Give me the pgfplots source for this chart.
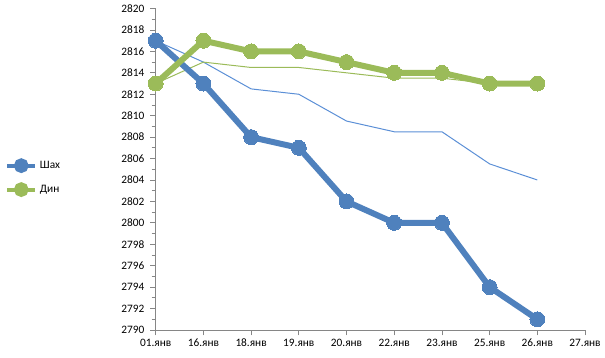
\documentclass[border=0pt]{standalone}
\usepackage{pgfplots}
\pgfplotsset{compat=1.18}
\usepackage{fontspec}
\setmainfont{Carlito}
\definecolor{xblue}{HTML}{4F81BD}
\definecolor{xgreen}{HTML}{9BBB59}
\definecolor{tblue}{HTML}{5B8FD6}
\definecolor{axgray}{HTML}{868686}
\begin{document}
\begin{tikzpicture}[x=0.75pt,y=0.75pt]
\useasboundingbox (0,0) rectangle (605,357);
\begin{axis}[
  at={(155.7pt*0.75,27pt*0.75)}, anchor=south west,
  scale only axis, width=322pt, height=241.1pt,
  xmin=0, xmax=9, ymin=2790, ymax=2820,
  axis x line*=bottom, axis y line*=left,
  axis line style={axgray, line width=0.6pt},
  xtick={0,...,9},
  xticklabels={01.янв,16.янв,18.янв,19.янв,20.янв,22.янв,23.янв,25.янв,26.янв,27.янв},
  ytick={2790,2792,...,2820},
  minor ytick={2791,2793,...,2819},
  tick align=outside,
  major tick length=4pt, minor tick length=3pt,
  tick style={axgray, line width=0.6pt},
  every tick label/.append style={font=\fontsize{8.5}{10}\selectfont, text=black},
  /pgf/number format/assume math mode=true,
  /pgf/number format/1000 sep={},
  yticklabel style={xshift=-1pt},
  xticklabel style={yshift=1pt},
  clip=false,
  legend style={at={(rel axis cs:-0.351,0.474)}, anchor=west, draw=none, fill=none,
    font=\fontsize{8.5}{10}\selectfont, row sep=7pt, inner sep=0pt},
  legend cell align=left,
]
\addplot[tblue, line width=0.75pt, forget plot] coordinates {
(0,2817) (1,2815) (2,2812.5) (3,2812) (4,2809.5) (5,2808.5) (6,2808.5) (7,2805.5) (8,2804)};
\addplot[xgreen, line width=0.75pt, forget plot] coordinates {
(0,2813) (1,2815) (2,2814.5) (3,2814.5) (4,2814) (5,2813.5) (6,2813.5) (7,2813) (8,2813)};
\addplot[xblue, line width=4.5pt, mark=*, mark size=5.6pt, mark options={line width=0pt},
  legend image code/.code={\draw[xblue, line width=3pt] (0pt,0pt) -- (21pt,0pt); \fill[xblue] (10.5pt,0pt) circle (3.2pt);}]
coordinates {
(0,2817) (1,2813) (2,2808) (3,2807) (4,2802) (5,2800) (6,2800) (7,2794) (8,2791)};
\addlegendentry{Шах}
\addplot[xgreen, line width=4.5pt, mark=*, mark size=5.6pt, mark options={line width=0pt},
  legend image code/.code={\draw[xgreen, line width=3pt] (0pt,0pt) -- (21pt,0pt); \fill[xgreen] (10.5pt,0pt) circle (3.2pt);}]
coordinates {
(0,2813) (1,2817) (2,2816) (3,2816) (4,2815) (5,2814) (6,2814) (7,2813) (8,2813)};
\addlegendentry{Дин}
\end{axis}
\end{tikzpicture}
\end{document}
